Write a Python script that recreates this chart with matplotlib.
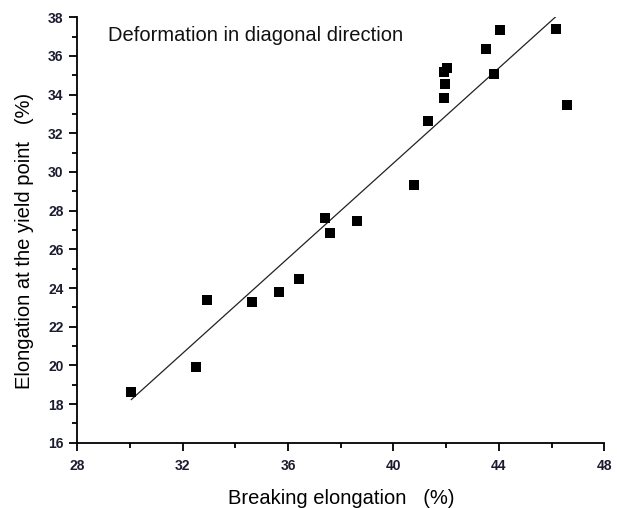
import numpy as np
import matplotlib.pyplot as plt
from matplotlib.ticker import MultipleLocator

# breaking elongation (%) vs elongation at the yield point (%)
breaking = [30.05, 32.5, 32.93, 34.64, 35.65, 36.40, 37.40, 37.60, 38.60, 40.79,
            41.30, 41.90, 41.96, 41.93, 42.02, 43.52, 43.83, 44.05, 46.15, 46.58]
yield_pt = [18.64, 19.94, 23.39, 23.30, 23.78, 24.49, 27.60, 26.82, 27.46, 29.34,
            32.63, 33.82, 34.53, 35.19, 35.36, 36.38, 35.05, 37.33, 37.40, 33.46]

# linear fit line drawn in the original
fit_slope = 1.229
fit_intercept = -18.70
fit_x = [30.05, 46.15]

plt.rcParams["font.family"] = ["Liberation Sans", "DejaVu Sans"]

fig = plt.figure(figsize=(6.17, 5.08), dpi=100)
ax = fig.add_axes([0.1253, 0.1285, 0.8541, 0.8375])

ax.scatter(breaking, yield_pt, marker="s", s=52, color="black", lw=0, zorder=3)
fx = np.array(fit_x)
ax.plot(fx, fit_slope * fx + fit_intercept, color="#222222", lw=0.9)

ax.set_xlim(28, 48)
ax.set_ylim(16, 38)
ax.xaxis.set_major_locator(MultipleLocator(4))
ax.xaxis.set_minor_locator(MultipleLocator(2))
ax.yaxis.set_major_locator(MultipleLocator(2))
ax.yaxis.set_minor_locator(MultipleLocator(1))

for side in ("top", "right"):
    ax.spines[side].set_visible(False)
for side in ("left", "bottom"):
    ax.spines[side].set_linewidth(1.3)

tick_color = "#1c1c30"
ax.tick_params(which="major", direction="out", length=6, width=1.3,
               labelsize=10, labelcolor=tick_color)
ax.tick_params(axis="x", which="major", pad=6)
ax.tick_params(axis="y", which="major", pad=4)
ax.tick_params(which="minor", direction="out", length=3.5, width=1.3)
for lab in ax.get_xticklabels() + ax.get_yticklabels():
    lab.set_fontweight("bold")

ax.set_xlabel("Breaking elongation   (%)", fontsize=14.5, va="center")
ax.xaxis.set_label_coords(0.5, -0.131)
ax.set_ylabel("Elongation at the yield point   (%)", fontsize=14.5, va="center")
ax.yaxis.set_label_coords(-0.101, 0.474)

ax.text(29.17, 36.78, "Deformation in diagonal direction", fontsize=14.5,
        va="baseline", ha="left", color="#111111")

fig.savefig("out.png", dpi=100)
